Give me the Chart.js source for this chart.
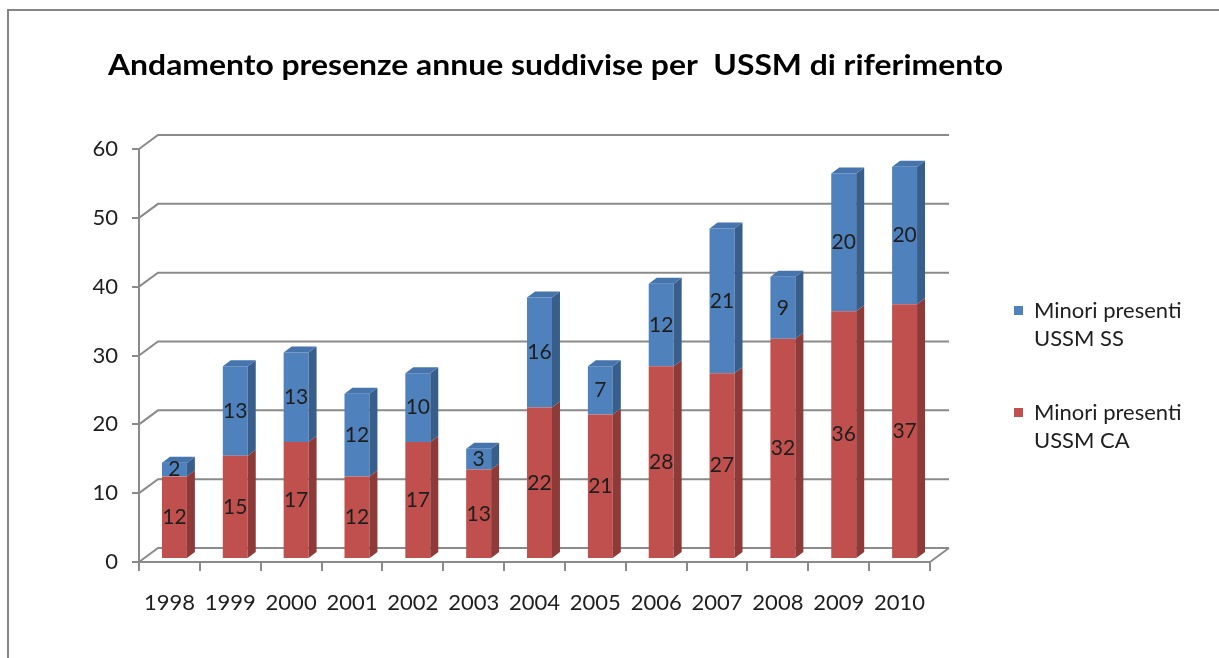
<!DOCTYPE html>
<html>
<head>
<meta charset="utf-8">
<script src="https://cdn.jsdelivr.net/npm/chart.js@4/dist/chart.umd.min.js"></script>
<style>
  html, body { margin: 0; padding: 0; background: #fff; }
  #wrap { width: 1219px; height: 658px; position: relative; }
</style>
</head>
<body>
<div id="wrap"><canvas id="chart" width="1219" height="658"></canvas></div>
<script>
const years = ["1998", "1999", "2000", "2001", "2002", "2003", "2004", "2005", "2006", "2007", "2008", "2009", "2010"];
const ussmCA = [12, 15, 17, 12, 17, 13, 22, 21, 28, 27, 32, 36, 37];
const ussmSS = [2, 13, 13, 12, 10, 3, 16, 7, 12, 21, 9, 20, 20];
const yMax = 60;
const yStep = 10;

const titleText = "Andamento presenze annue suddivise per  USSM di riferimento";
const legendItems = [
    { lines: ["Minori presenti", "USSM SS"], color: "#4F81BD" },
    { lines: ["Minori presenti", "USSM CA"], color: "#C0504D" }
];

// depth of the back wall and of the bars (3D look)
const WALL = { dx: 19, dy: -14 };
const BAR = { dx: 8, dy: -6, sx: 5, sy: -3 };
const LINE = "#8a8a8a";
const TEXT = "#1e1e1e";

Chart.defaults.font.family = "Lato, 'Open Sans', sans-serif";
Chart.defaults.color = TEXT;

const threeD = {
    id: "threeD",
    beforeDraw(chart) {
        const ctx = chart.ctx;
        ctx.save();
        ctx.fillStyle = "#fff";
        ctx.fillRect(0, 0, chart.width, chart.height);
        // outer frame (cut off on right and bottom)
        ctx.strokeStyle = "#858585";
        ctx.lineWidth = 2;
        ctx.beginPath();
        ctx.moveTo(8, chart.height);
        ctx.lineTo(8, 10);
        ctx.lineTo(chart.width, 10);
        ctx.stroke();
        ctx.restore();
    },
    beforeDatasetsDraw(chart) {
        const { ctx, chartArea: a, scales: { y } } = chart;
        ctx.save();
        ctx.strokeStyle = LINE;
        ctx.lineWidth = 2;
        y.ticks.forEach(t => {
            const py = y.getPixelForValue(t.value);
            ctx.beginPath();
            ctx.moveTo(a.left, py);
            ctx.lineTo(a.left + WALL.dx, py + WALL.dy);
            ctx.lineTo(a.right + WALL.dx, py + WALL.dy);
            ctx.stroke();
        });
        const p0 = y.getPixelForValue(0);
        ctx.beginPath();
        ctx.moveTo(a.right, p0);
        ctx.lineTo(a.right + WALL.dx, p0 + WALL.dy);
        ctx.stroke();
        ctx.restore();
        ctx.save();
        ctx.translate(BAR.sx, BAR.sy);
    },
    afterDatasetsDraw(chart) {
        const ctx = chart.ctx;
        const last = chart.data.datasets.length - 1;
        chart.data.datasets.forEach((ds, i) => {
            chart.getDatasetMeta(i).data.forEach(bar => {
                const { x, y, base, width } = bar.getProps(["x", "y", "base", "width"], true);
                const l = x - width / 2, r = x + width / 2;
                ctx.fillStyle = ds.sideColor;
                ctx.beginPath();
                ctx.moveTo(r, base);
                ctx.lineTo(r, y);
                ctx.lineTo(r + BAR.dx, y + BAR.dy);
                ctx.lineTo(r + BAR.dx, base + BAR.dy);
                ctx.closePath();
                ctx.fill();
                if (i === last) {
                    ctx.fillStyle = ds.topColor;
                    ctx.beginPath();
                    ctx.moveTo(l, y);
                    ctx.lineTo(r, y);
                    ctx.lineTo(r + BAR.dx, y + BAR.dy);
                    ctx.lineTo(l + BAR.dx, y + BAR.dy);
                    ctx.closePath();
                    ctx.fill();
                }
            });
        });
        // value labels
        ctx.font = "21px Lato";
        ctx.fillStyle = TEXT;
        ctx.textAlign = "center";
        ctx.textBaseline = "middle";
        chart.data.datasets.forEach((ds, i) => {
            chart.getDatasetMeta(i).data.forEach((bar, j) => {
                const { x, y, base } = bar.getProps(["x", "y", "base"], true);
                ctx.fillText(String(ds.data[j]), x, (y + base) / 2);
            });
        });
        ctx.restore();
    },
    afterDraw(chart) {
        const ctx = chart.ctx;
        ctx.save();
        ctx.fillStyle = "#000";
        ctx.font = "bold 29px Lato";
        ctx.textBaseline = "alphabetic";
        ctx.textAlign = "left";
        // stretch the title to the width it takes in the original
        const w = ctx.measureText(titleText).width;
        ctx.translate(108, 75);
        ctx.scale(895 / w, 1);
        ctx.fillText(titleText, 0, 0);
        ctx.restore();

        ctx.save();
        ctx.font = "22px Lato";
        ctx.textAlign = "left";
        let top = 318;
        legendItems.forEach(item => {
            ctx.fillStyle = item.color;
            ctx.fillRect(1014, top - 12, 9, 9);
            ctx.fillStyle = TEXT;
            item.lines.forEach((ln, k) => ctx.fillText(ln, 1034, top + k * 28));
            top += 102;
        });
        ctx.restore();
    }
};

new Chart(document.getElementById("chart"), {
    type: "bar",
    data: {
        labels: years,
        datasets: [
            {
                label: "Minori presenti USSM CA",
                data: ussmCA,
                backgroundColor: "#C0504D",
                sideColor: "#8E3A38",
                topColor: "#B84A47",
                barPercentage: 0.41,
                categoryPercentage: 1
            },
            {
                label: "Minori presenti USSM SS",
                data: ussmSS,
                backgroundColor: "#4F81BD",
                sideColor: "#385E8C",
                topColor: "#4675AE",
                barPercentage: 0.41,
                categoryPercentage: 1
            }
        ]
    },
    options: {
        responsive: false,
        animation: false,
        layout: { padding: { left: 0, top: 149, right: 289, bottom: 0 } },
        plugins: {
            legend: { display: false },
            title: { display: false },
            tooltip: { enabled: false }
        },
        scales: {
            x: {
                stacked: true,
                afterFit: s => { s.height = 96; },
                grid: { offset: true, drawOnChartArea: false, tickLength: 9, color: LINE, lineWidth: 2 },
                border: { color: LINE, width: 2 },
                ticks: { font: { size: 22 }, padding: 19, color: TEXT }
            },
            y: {
                stacked: true,
                min: 0,
                max: yMax,
                afterFit: s => { s.width = 139; },
                grid: { drawOnChartArea: false, tickLength: 7, color: LINE, lineWidth: 2 },
                border: { color: LINE, width: 2 },
                ticks: { stepSize: yStep, font: { size: 22 }, padding: 14, color: TEXT }
            }
        }
    },
    plugins: [threeD]
});
</script>
</body>
</html>
